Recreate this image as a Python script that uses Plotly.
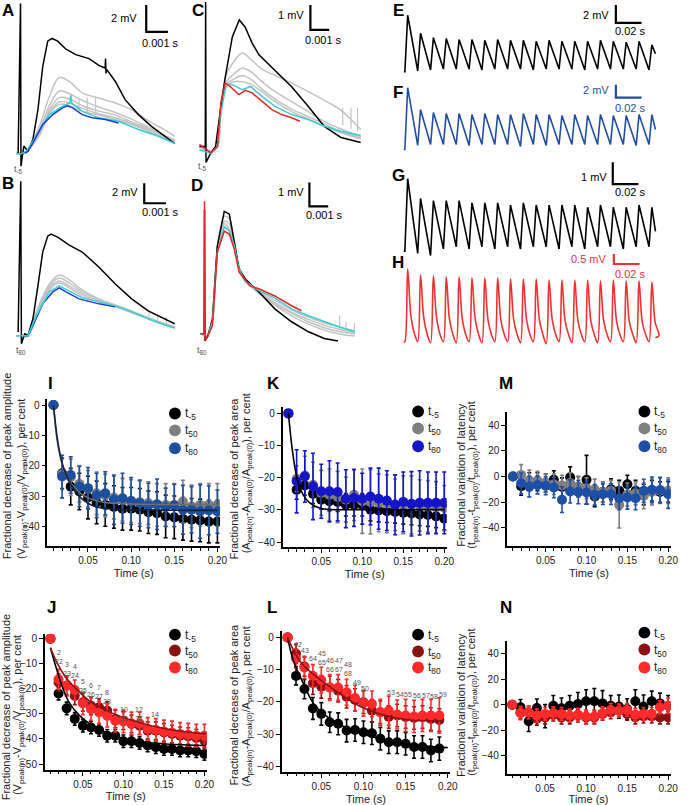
import plotly.graph_objects as go

W, H = 688, 805
FONT = "Liberation Sans, Arial, sans-serif"

# ===================== DATA: scatter panels (I, K, M, J, L, N) =====================
time_s = [0.01, 0.02, 0.03, 0.04, 0.05, 0.06, 0.07, 0.08, 0.09, 0.10,
          0.11, 0.12, 0.13, 0.14, 0.15, 0.16, 0.17, 0.18, 0.19, 0.20]
time_L = [0.01, 0.02, 0.03, 0.04, 0.05, 0.06, 0.07, 0.08, 0.09, 0.10,
          0.11, 0.12, 0.13, 0.14, 0.15, 0.16, 0.17, 0.18, 0.19]
x_ticks = [0.05, 0.10, 0.15, 0.20]
x_ticktext = ["0.05", "0.10", "0.15", "0.20"]
legend_labels = ["t<sub>-5</sub>", "t<sub>50</sub>", "t<sub>80</sub>"]

# I: fractional decrease of peak amplitude (cerebellar group)
I_t5 = [0, -22.4, -26.8, -28.4, -30.4, -32.0, -32.8, -33.5, -34.1, -34.1, -34.4, -35.2, -35.5, -36.6, -36.9, -37.4, -37.7, -37.9, -38.3, -38.3]
I_t5_err = [0, 5, 6, 6, 7, 7, 7, 7, 7, 7, 7, 7, 7, 7, 7, 7, 7, 7, 7, 7]
I_t50 = [0, -22.7, -23.7, -25.9, -27.5, -29.0, -29.7, -30.4, -31.1, -31.5, -31.9, -32.2, -32.8, -32.8, -32.8, -31.7, -33.3, -32.8, -32.8, -32.8]
I_t50_err = [0, 5, 6, 6, 6, 7, 7, 7, 7, 7, 7, 7, 7, 7, 7, 7, 7, 7, 7, 7]
I_t80 = [0, -23.5, -23.0, -26.8, -27.3, -29.7, -29.0, -31.1, -30.6, -31.5, -32.2, -33.0, -32.6, -33.6, -33.0, -34.4, -34.4, -35.0, -34.6, -35.0]
I_t80_err = [0, 7.0, 6.0, 6.6, 6.8, 7.3, 7.1, 8.1, 8.2, 7.7, 7.6, 7.3, 8.3, 6.3, 7.0, 8.0, 7.6, 8.8, 8.0, 7.1]
I_fit_t = [0.01, 0.015, 0.0207, 0.0264, 0.034, 0.0436, 0.055, 0.070, 0.101, 0.20]
I_fit_v = [0, -12.0, -19.7, -24.0, -27.8, -31.0, -33.0, -34.0, -34.4, -34.6]
I_fit2_v = [0, -13.0, -20.0, -24.0, -27.0, -29.5, -31.0, -32.0, -32.5, -32.7]

# K: fractional decrease of peak area
K_t5 = [0, -23.7, -22.4, -25.0, -26.8, -27.3, -27.5, -28.4, -28.4, -28.4, -29.9, -30.2, -30.4, -30.6, -30.9, -31.1, -31.4, -31.6, -32.0, -32.7]
K_t5_err = [0, 3, 3, 3, 3, 3, 3, 3.5, 3.5, 3.5, 3.5, 3.5, 3.5, 3.5, 3.5, 3.5, 3.5, 3.5, 3.5, 3.5]
K_t50 = [0, -20.3, -19.3, -22.2, -24.7, -25.3, -26.0, -26.8, -25.3, -27.3, -27.5, -27.8, -28.1, -28.4, -28.4, -28.4, -28.6, -28.9, -29.2, -29.4]
K_t50_err = [0, 4, 6, 7, 7, 8, 8, 7, 8, 10, 10, 9, 9, 8, 9, 9, 8, 8, 8, 7]
K_t80 = [0, -21.1, -19.6, -22.7, -24.2, -24.2, -24.4, -26.5, -26.3, -26.5, -25.8, -26.5, -27.1, -28.4, -27.5, -28.1, -27.8, -27.8, -27.8, -27.8]
K_t80_err = [0, 9.8, 8.0, 10.3, 8.4, 9.5, 9.0, 9.0, 8.8, 7.9, 8.8, 9.5, 9.3, 9.3, 9.3, 10, 10, 9.6, 9.6, 9.6]
K_fit_t = [0.01, 0.014, 0.018, 0.022, 0.028, 0.036, 0.048, 0.064, 0.096, 0.20]
K_fit_v = [0, -9.8, -17.0, -21.6, -25.3, -27.8, -29.4, -29.9, -29.9, -29.9]

# M: fractional variation of latency
M_t5 = [0, -7.5, -4, -4, -5, -2.5, -8, -0.5, -8, -2.5, -15.5, -12, -9.8, -11, -6, -11, -14, -11, -12, -12]
M_t5_err = [0, 7, 7, 7, 7, 7, 7, 8, 8, 19, 8, 8, 8, 8, 7, 8, 8, 8, 8, 8]
M_t50 = [0, 1.3, -3, -3, -5, -6, -7, -5, -8, -9, -10, -12, -11, -22, -14, -13, -15, -12, -11, -11]
M_t50_err = [0, 8, 8, 7, 7, 8, 8, 8, 8, 8, 8, 8, 8, 18, 9, 9, 10, 10, 10, 10]
M_t80 = [0, -5.2, -7.8, -6.5, -7.2, -8.5, -18, -11.6, -12.1, -12.4, -14.2, -13.7, -13.7, -16.8, -16.3, -16.8, -11.1, -10.3, -10.5, -13.7]
M_t80_err = [0, 8, 8, 7, 7, 8, 10, 9, 9, 9, 8, 8, 8, 9, 9, 9, 9, 10, 10, 11]

# J: fractional decrease of peak amplitude (second group)
J_t5 = [0, -21.9, -27.8, -32.0, -34.7, -35.4, -36.4, -38.7, -38.7, -40.9, -40.9, -41.6, -42.6, -43.3, -44.0, -44.0, -44.6, -44.6, -44.9, -46.0]
J_t5_err = [0, 2.5, 2.5, 2.5, 2.5, 2.5, 2.5, 2.5, 2.5, 2.5, 2.5, 2.5, 2.5, 2.5, 2.5, 2.5, 2.5, 2.5, 2.5, 2.5]
J_t50 = [0, -17.5, -18.8, -22.8, -25.4, -26.8, -27.4, -28.7, -32.0, -32.7, -34.0, -34.7, -36.7, -36.7, -37.4, -38.0, -38.7, -39.0, -39.6, -40.7]
J_t50_err = [0, 3.5, 3.5, 3.5, 3.5, 3.5, 3.5, 3.5, 3.5, 3.5, 3.5, 3.5, 3.5, 3.5, 3.5, 3.5, 3.5, 3.5, 3.5, 3.5]
J_t80 = [0, -16.2, -18.8, -20.5, -25.8, -28.1, -29.4, -30.7, -32.7, -33.0, -33.8, -33.8, -36.0, -36.4, -37.0, -37.4, -38.0, -38.3, -38.7, -38.7]
J_t80_err = [0, 4, 4, 4, 4.5, 4.5, 4.5, 4.5, 4.5, 4.5, 4.5, 4.5, 4.5, 4.5, 4.5, 4.5, 4.5, 4.5, 4.5, 4.5]
J_fit5_t = [0.01, 0.017, 0.025, 0.033, 0.046, 0.062, 0.083, 0.112, 0.153, 0.202]
J_fit5_v = [-3.6, -11.5, -19.5, -25.4, -30.7, -34.7, -38.0, -40.7, -42.0, -42.6]
J_fit80_t = [0.01, 0.019, 0.029, 0.042, 0.058, 0.079, 0.112, 0.153, 0.202]
J_fit80_v = [-3.6, -10.2, -15.5, -20.1, -24.8, -28.7, -32.7, -36.0, -38.0]
J_note_text = ["2<br>22", "3<br>23", "4<br>24", "5<br>25", "6<br>26", "7<br>27", "8<br>28", "10<br>30", "12<br>32", "14"]
J_note_t = [0.0209, 0.0307, 0.0398, 0.0502, 0.060, 0.0697, 0.0795, 0.1002, 0.1197, 0.139]
J_note_v = [-7.5, -12.3, -13.1, -19.0, -20.6, -21.4, -23.4, -30.2, -30.2, -30.2]

# L: fractional decrease of peak area (second group)
L_t5 = [0, -11.9, -16.0, -22.0, -23.7, -26.3, -26.8, -28.9, -28.7, -29.4, -29.7, -31.4, -32.5, -32.5, -33.0, -34.0, -34.0, -35.1, -34.5]
L_t5_err = [0, 2.8, 3, 3.4, 3.5, 3.2, 3.4, 3.5, 3.5, 3.5, 3.5, 3.5, 3.5, 3.5, 3.5, 3.5, 3.5, 3.5, 3.6]
L_t50 = [0, -5.0, -9.0, -14.2, -15.3, -15.5, -16.5, -18.4, -19.4, -20.1, -22.7, -23.2, -24.7, -24.2, -24.7, -25.0, -24.7, -25.3, -25.6]
L_t50_err = [0, 3, 3, 3.5, 3.5, 3.5, 3.5, 3.5, 3.5, 3.5, 3.5, 3.5, 3.5, 3.5, 3.5, 3.5, 3.5, 3.5, 3.5]
L_t80 = [0, -6.5, -9.3, -11.9, -13.2, -15.5, -15.5, -17.0, -18.8, -20.4, -20.6, -23.2, -22.7, -23.9, -24.2, -24.5, -24.2, -24.2, -24.2]
L_t80_err = [0, 3, 3.5, 3.5, 4, 4, 4, 4, 4, 4, 4, 4, 4.5, 4.5, 5, 5, 5, 5, 5.5]
L_fit5_t = [0.01, 0.0169, 0.029, 0.041, 0.0576, 0.0778, 0.098, 0.119, 0.139, 0.163, 0.20]
L_fit5_v = [0, -7.2, -14.4, -20.6, -24.7, -27.8, -29.9, -31.4, -32.5, -33.5, -34.2]
L_fit80_t = [0.01, 0.0243, 0.040, 0.0555, 0.075, 0.094, 0.113, 0.133, 0.156, 0.193]
L_fit80_v = [0, -7.2, -11.3, -14.4, -18.0, -21.1, -23.2, -24.7, -25.6, -26.0]
L_note_text = ["42", "43", "64", "45<br>65", "46<br>66", "47<br>67", "48<br>68", "49", "50",
               "53", "54", "55", "56", "57", "58", "59"]
L_note_t = [0.0218, 0.0311, 0.0405, 0.051, 0.0604, 0.071, 0.0815, 0.092, 0.1015,
            0.133, 0.1437, 0.153, 0.1636, 0.174, 0.1835, 0.194]
L_note_v = [-2.2, -4.0, -6.5, -6.2, -8.4, -8.4, -9.9, -13.9, -15.8,
            -17.0, -17.6, -17.6, -18.0, -18.0, -18.3, -17.6]

# N: fractional variation of latency (second group)
N_t5 = [0, -2, -13, -2.6, -9, -0.8, -2.8, -0.8, 0.5, 2.6, 2.6, 1, -0.8, -1.5, -3.4, 2.6, -1.5, 2.6, 1.0, -0.8]
N_t5_err = [0, 6, 8, 7, 9, 8, 8, 8, 9, 9, 10, 10, 8, 9, 8, 9, 9, 8, 8, 8]
N_t50 = [0, -6, -6, -11, -10, -7.8, -10, -10, -8.5, -10, -10, -7.2, -6, -4.7, -7.2, -10, -9.3, -9.3, -10, -10]
N_t50_err = [0, 5, 5, 5, 5, 5, 5, 5, 5, 5, 5, 5, 5, 5, 5, 5, 5, 5, 5, 5]
N_t80 = [0, -6.7, -6, -8.5, -7.2, -6.7, -7.2, -8.5, -7.8, -9.3, -9.3, -6.7, -4.1, -4.7, -4.1, -7.8, -7.2, -7.2, -2, -0.8]
N_t80_err = [0, 5, 5, 5, 5, 5, 5, 5, 5, 5, 5, 5, 5, 5, 5, 5, 5, 5, 5, 6]

# ===================== DATA: single-response traces (A-D), ms / mV =====================
A_black_t = [-0.12, -0.01, 0.01, 0.14, 0.33, 0.56, 0.79, 1.01, 1.24, 1.44, 1.70, 2.08, 2.53, 3.14, 3.59,
             3.88, 3.90, 3.92, 3.95, 4.35, 4.80, 5.41, 6.01, 6.62, 7.08]
A_black_v = [-0.15, 11.0, -1.1, 0.4, 0.0, 0.9, 3.1, 6.3, 8.2, 8.4, 8.2, 7.6, 7.2, 6.9, 6.4,
             6.2, 6.9, 5.8, 6.1, 5.2, 3.85, 2.74, 1.87, 1.13, 0.59]
A_blue_t = [0.18, 0.33, 0.56, 1.01, 1.47, 1.92, 2.15, 2.38, 2.83, 3.29, 3.89, 4.50]
A_blue_v = [-0.15, 0.0, 0.64, 2.0, 2.74, 3.24, 3.4, 3.24, 2.74, 2.5, 2.37, 2.12]
A_cyan_t = [-0.2, -0.05, 0.26, 0.71, 1.32, 1.92, 2.26, 2.30, 2.35, 2.83, 3.59, 4.50, 5.41, 6.32, 7.08]
A_cyan_v = [-0.15, -0.2, 0.0, 1.13, 2.74, 3.36, 3.6, 4.2, 3.6, 2.98, 2.5, 2.24, 1.63, 1.13, 0.59]
A_gray_t = [-0.2, 0.26, 0.86, 1.32, 1.77, 2.23, 2.83, 3.59, 4.35, 5.10, 5.86, 6.62, 7.08]
A_gray = [
    [-0.15, 0, 1.87, 4.1, 5.5, 5.2, 4.35, 3.97, 3.6, 3.1, 2.3, 1.6, 1.13],
    [-0.15, 0, 1.6, 3.4, 4.5, 4.3, 3.8, 3.3, 2.9, 2.4, 1.8, 1.2, 0.85],
    [-0.15, 0, 1.4, 3.1, 4.0, 3.9, 3.4, 3.0, 2.7, 2.2, 1.7, 1.1, 0.75],
    [-0.15, 0, 1.3, 2.9, 3.7, 3.6, 3.2, 2.8, 2.5, 2.1, 1.6, 1.05, 0.7],
    [-0.15, 0, 1.2, 2.8, 3.5, 3.4, 3.0, 2.7, 2.4, 2.0, 1.5, 1.0, 0.65],
]
A_spike_t = [2.68, 3.06, 3.44]
A_spike_lo = [2.9, 2.8, 2.7]
A_spike_hi = [3.9, 4.0, 4.1]

B_black_t = [-0.12, 0.0, 0.03, 0.18, 0.33, 0.56, 0.79, 1.01, 1.24, 1.39, 1.70, 2.23, 2.83, 3.59, 4.35, 5.10, 5.86, 6.62, 7.08]
B_black_v = [0.37, 15.5, -0.8, 0.2, 0.03, 1.7, 5.0, 8.4, 10.0, 10.2, 9.9, 9.1, 8.4, 6.9, 5.2, 3.7, 2.5, 1.7, 1.2]
B_blue_t = [0.1, 0.33, 0.56, 1.01, 1.47, 1.77, 2.08, 2.68, 3.59, 4.35]
B_blue_v = [0.0, 0.0, 1.0, 3.2, 4.4, 4.8, 4.4, 3.7, 3.2, 2.9]
B_cyan_t = [-0.2, 0.33, 0.71, 1.32, 1.77, 2.23, 2.83, 3.59, 4.35, 5.10, 5.86, 6.62, 7.08]
B_cyan_v = [0.0, 0.0, 2.0, 4.4, 5.0, 4.5, 3.8, 3.4, 3.0, 2.4, 1.7, 1.1, 0.77]
B_gray_t = [-0.2, 0.33, 0.71, 1.32, 1.77, 2.23, 2.83, 3.59, 4.35, 5.10, 5.86, 6.62, 7.08]
B_gray = [
    [0, 0, 2.4, 5.2, 6.1, 5.6, 4.6, 3.7, 3.1, 2.5, 1.8, 1.2, 0.9],
    [0, 0, 2.2, 5.0, 5.8, 5.3, 4.4, 3.6, 3.0, 2.4, 1.8, 1.2, 0.9],
    [0, 0, 2.1, 4.8, 5.5, 5.0, 4.2, 3.5, 3.0, 2.4, 1.7, 1.1, 0.8],
    [0, 0, 2.0, 4.6, 5.3, 4.8, 4.0, 3.4, 2.9, 2.3, 1.7, 1.1, 0.8],
]
B_spike_t = [5.9, 6.3, 6.7]
B_spike_lo = [1.6, 1.3, 1.0]
B_spike_hi = [2.6, 2.2, 1.9]

C_black_t = [-0.33, -0.02, 0.0, 0.02, 0.26, 0.53, 0.79, 1.05, 1.42, 1.79, 2.10, 2.47, 2.84, 3.68, 4.58, 5.47, 6.32, 7.21, 8.26]
C_black_v = [0.0, 0.0, 5.8, -0.64, -0.28, 0.0, 1.48, 2.8, 4.4, 5.08, 4.8, 4.16, 3.68, 3.08, 2.4, 1.6, 0.8, 0.36, 0.16]
C_red_t = [-0.33, 0.28, 0.63, 0.81, 1.04, 1.33, 1.77, 2.12, 2.47, 3.0, 3.53, 4.05, 4.58, 5.02]
C_red_v = [0.08, -0.25, 0.0, 1.75, 2.55, 2.39, 2.08, 2.25, 2.15, 1.81, 1.48, 1.28, 1.15, 1.01]
C_cyan_t = [-0.33, 0.28, 0.63, 0.81, 1.10, 1.42, 1.95, 2.39, 3.0, 3.7, 4.58, 5.46, 6.33, 7.21, 8.26]
C_cyan_v = [-0.13, -0.28, 0.0, 1.35, 2.5, 2.48, 2.28, 2.41, 2.01, 1.61, 1.28, 1.08, 0.81, 0.61, 0.44]
C_gray_t = [-0.33, 0.28, 0.63, 0.81, 1.10, 1.50, 1.95, 2.40, 3.0, 3.7, 4.58, 5.46, 6.33, 7.21, 8.26]
C_gray = [
    [0.0, -0.2, 0.0, 1.6, 2.9, 3.4, 3.75, 3.5, 3.1, 2.85, 2.55, 2.2, 1.85, 1.45, 0.68],
    [0.0, -0.2, 0.0, 1.5, 2.6, 2.9, 3.15, 3.0, 2.6, 2.2, 1.8, 1.4, 1.0, 0.7, 0.4],
    [0.0, -0.25, 0.0, 1.4, 2.5, 2.7, 2.85, 2.7, 2.3, 1.9, 1.5, 1.2, 0.9, 0.6, 0.35],
    [0.0, -0.25, 0.0, 1.3, 2.4, 2.6, 2.6, 2.5, 2.2, 1.8, 1.4, 1.1, 0.8, 0.55, 0.3],
]
C_spike_t = [7.3, 7.74, 8.09]
C_spike_lo = [0.85, 0.7, 0.6]
C_spike_hi = [1.55, 1.55, 1.55]

D_black_t = [-0.21, -0.02, 0.0, 0.02, 0.16, 0.42, 0.68, 1.05, 1.32, 1.58, 1.84, 2.16, 2.89, 3.74, 4.63, 5.53, 6.37, 7.10]
D_black_v = [0.0, 0.0, 5.2, -0.3, -0.12, 0.62, 3.67, 5.12, 5.0, 3.83, 2.7, 2.3, 1.75, 1.04, 0.5, 0.08, -0.2, -0.3]
D_red_t = [-0.21, -0.02, 0.0, 0.02, 0.16, 0.42, 0.68, 1.05, 1.32, 1.58, 1.84, 2.42, 2.89, 3.74, 4.63, 5.16]
D_red_v = [0.0, 0.0, 5.54, -0.3, -0.08, 0.33, 3.42, 4.29, 4.17, 3.54, 2.58, 2.0, 1.88, 1.58, 1.17, 0.96]
D_cyan_t = [-0.21, 0.16, 0.42, 0.68, 1.05, 1.32, 1.58, 1.84, 2.16, 2.89, 3.74, 4.63, 5.53, 6.37, 7.10, 8.0]
D_cyan_v = [0.0, -0.1, 0.5, 3.4, 4.46, 4.3, 3.7, 2.7, 2.2, 1.8, 1.5, 1.04, 0.75, 0.5, 0.3, 0.08]
D_gray_t = [-0.21, 0.16, 0.42, 0.68, 1.05, 1.32, 1.58, 1.84, 2.16, 2.89, 3.74, 4.63, 5.53, 6.37, 7.10, 8.0]
D_gray = [
    [0, -0.1, 0.6, 3.6, 4.9, 4.8, 3.9, 2.8, 2.3, 1.75, 1.2, 0.75, 0.4, 0.15, 0.0, -0.1],
    [0, -0.1, 0.6, 3.5, 4.7, 4.6, 3.8, 2.7, 2.2, 1.7, 1.25, 0.85, 0.5, 0.25, 0.1, 0.0],
    [0, -0.1, 0.5, 3.4, 4.6, 4.4, 3.7, 2.7, 2.2, 1.75, 1.3, 0.9, 0.6, 0.35, 0.2, 0.05],
    [0, -0.1, 0.5, 3.3, 4.5, 4.3, 3.7, 2.7, 2.2, 1.8, 1.4, 1.0, 0.7, 0.45, 0.3, 0.1],
]
D_spike_t = [7.19, 7.53, 7.97]
D_spike_lo = [0.2, 0.15, 0.1]
D_spike_hi = [0.76, 0.5, 0.45]

# ===================== DATA: 100 Hz trains (E-H), s / mV =====================
stim_s = [0.002, 0.012, 0.022, 0.032, 0.042, 0.052, 0.062, 0.072, 0.082, 0.092,
          0.102, 0.112, 0.122, 0.132, 0.142, 0.152, 0.162, 0.172, 0.182, 0.192]
E_peaks = [6.3, 4.3, 3.8, 3.7, 3.6, 3.6, 3.5, 3.6, 3.5, 3.5, 3.4, 3.5, 3.4, 3.4, 3.4, 3.5, 3.4, 3.3, 3.4, 3.0]
E_troughs = [0.1, 0.2, 0.3, 0.3, 0.3, 0.2, 0.3, 0.3, 0.3, 0.2, 0.3, 0.3, 0.3, 0.2, 0.3, 0.3, 0.3, 0.3, 0.2, 2.0]
F_peaks = [6.2, 4.0, 3.7, 3.6, 3.6, 3.5, 3.6, 3.5, 3.5, 3.6, 3.5, 3.5, 3.4, 3.5, 3.4, 3.5, 3.4, 3.4, 3.5, 3.5]
F_troughs = [0.4, 0.5, 0.5, 0.5, 0.4, 0.5, 0.5, 0.5, 0.3, 0.5, 0.4, 0.5, 0.5, 0.5, 0.5, 0.5, 0.5, 0.4, 0.5, 2.0]
G_peaks = [3.3, 2.4, 2.3, 2.3, 2.3, 2.2, 2.2, 2.2, 2.1, 2.2, 2.1, 2.1, 2.1, 2.1, 2.0, 2.1, 2.0, 2.0, 2.1, 2.0]
G_troughs = [-0.1, -0.2, 0.1, 0.2, 0.1, 0.2, 0.1, 0.2, 0.1, 0.2, 0.2, 0.1, 0.2, 0.1, 0.2, 0.2, 0.1, 0.2, 0.2, 0.9]
H_peaks = [3.65, 3.35, 3.3, 3.25, 3.25, 3.2, 3.2, 3.2, 3.15, 3.15, 3.15, 3.1, 3.1, 3.1, 3.1, 3.05, 3.1, 3.05, 3.05, 3.0]
H_shoulder = [1.3, 1.2, 1.2, 1.15, 1.15, 1.15, 1.1, 1.1, 1.1, 1.1, 1.1, 1.1, 1.05, 1.05, 1.05, 1.05, 1.05, 1.0, 1.0, 1.0]
H_tail = [0.35, 0.3, 0.3, 0.3, 0.3, 0.3, 0.3, 0.3, 0.3, 0.3, 0.3, 0.3, 0.3, 0.3, 0.3, 0.3, 0.3, 0.3, 0.3, 0.3]
H_troughs = [0.0, -0.05, 0.0, -0.05, 0.0, -0.05, 0.0, 0.0, -0.05, 0.0, -0.1, 0.0, -0.05, 0.0, -0.05, 0.0, 0.0, -0.05, 0.0, 0.2]

# ===================== helpers =====================
def clamp(v):
    return max(0.0, min(1.0, v))

def dx(p0, p1):
    return [clamp(p0 / W), clamp(p1 / W)]

def dy(top, bottom):
    return [clamp(1 - bottom / H), clamp(1 - top / H)]

def pxx(p):
    return p / W

def pxy(p):
    return 1 - p / H

fig = go.Figure()
layout = dict(width=W, height=H, margin=dict(l=0, r=0, t=0, b=0),
              paper_bgcolor="white", plot_bgcolor="white",
              font=dict(family=FONT, size=10, color="#222"), showlegend=False)
annotations = []
shapes = []

# --- trace panel axes ---
TR_X = [-0.0054, 0.2161]
trace_panels = {
    1: dict(dom=(dx(10, 185), dy(0, 172)), xr=[-0.5, 7.455], yr=[-1.48, 11.26]),      # A
    2: dict(dom=(dx(10, 185), dy(180, 352)), xr=[-0.5, 7.455], yr=[-1.5, 15.7]),      # B
    3: dict(dom=(dx(198, 372), dy(0, 172)), xr=[-0.53, 8.63], yr=[-1.0, 5.88]),       # C
    4: dict(dom=(dx(198, 372), dy(180, 352)), xr=[-0.47, 8.68], yr=[-0.71, 6.46]),    # D
    5: dict(dom=(dx(400, 688), dy(0, 85)), xr=TR_X, yr=[-1.44, 8.0]),                 # E
    6: dict(dom=(dx(400, 688), dy(85, 170)), xr=TR_X, yr=[-2.0, 6.5]),                # F
    7: dict(dom=(dx(400, 688), dy(160, 262)), xr=TR_X, yr=[-0.45, 4.18]),             # G
    8: dict(dom=(dx(400, 688), dy(250, 350)), xr=TR_X, yr=[-0.35, 4.65]),             # H
}
for k, p in trace_panels.items():
    s = "" if k == 1 else str(k)
    layout["xaxis" + s] = dict(domain=p["dom"][0], range=p["xr"], visible=False, anchor="y" + s, fixedrange=True)
    layout["yaxis" + s] = dict(domain=p["dom"][1], range=p["yr"], visible=False, anchor="x" + s, fixedrange=True)

# --- scatter panel axes ---
XR = [0.003, 0.203]
scatter_panels = {
    9: dict(dom=(dx(48, 222.6), dy(400.5, 548.3)), yr=[-46.4, 2], yt=[0, -10, -20, -30, -40]),      # I
    10: dict(dom=(dx(286, 452), dy(408.5, 549.3)), yr=[-41.6, 2], yt=[0, -10, -20, -30, -40]),     # K
    11: dict(dom=(dx(513.2, 678.6), dy(413.3, 548.3)), yr=[-54.2, 50.4], yt=[40, 20, 0, -20, -40]), # M
    12: dict(dom=(dx(45.3, 209.3), dy(636, 772.7)), yr=[-52.3, 2], yt=[0, -10, -20, -30, -40, -50]), # J
    13: dict(dom=(dx(285, 455.6), dy(633.5, 775)), yr=[-41.8, 2], yt=[0, -10, -20, -30, -40]),     # L
    14: dict(dom=(dx(512.5, 678.5), dy(643.3, 776.7)), yr=[-54, 49.8], yt=[40, 20, 0, -20, -40]),  # N
}
for k, p in scatter_panels.items():
    s = str(k)
    layout["xaxis" + s] = dict(domain=p["dom"][0], range=XR, anchor="y" + s, showline=True,
                               linecolor="black", linewidth=1.6, ticks="outside", ticklen=4,
                               tickwidth=1.2, tickcolor="black", showgrid=False, zeroline=False,
                               tickvals=x_ticks, ticktext=x_ticktext, tickfont=dict(size=10),
                               minor=dict(tickvals=time_s, ticks="outside", ticklen=2.5,
                                          tickwidth=1, tickcolor="black", showgrid=False),
                               title=dict(text="Time (s)", font=dict(size=11), standoff=4),
                               fixedrange=True)
    layout["yaxis" + s] = dict(domain=p["dom"][1], range=p["yr"], anchor="x" + s, showline=True,
                               linecolor="black", linewidth=1.6, ticks="outside", ticklen=4,
                               tickwidth=1.2, tickcolor="black", showgrid=False, zeroline=False,
                               tickvals=p["yt"], tickfont=dict(size=10), fixedrange=True)

def ax(k):
    s = "" if k == 1 else str(k)
    return dict(xaxis="x" + s, yaxis="y" + s)

def line(k, t, v, color, width=1.5, shape="linear"):
    fig.add_trace(go.Scatter(x=t, y=v, mode="lines", line=dict(color=color, width=width, shape=shape),
                             hoverinfo="skip", **ax(k)))

def spikes(k, ts, lo, hi, color):
    xs, ys = [], []
    for t, a, b in zip(ts, lo, hi):
        xs += [t, t, t, None]
        ys += [a, b, a, None]
    line(k, xs, ys, color, 1.2)

def scalebar(k, x0, y0, lx, ly, color, vtxt, htxt, vtx, vty, htx, hty):
    line(k, [x0, x0, x0 + lx], [y0 + ly, y0, y0], color, 2.2)
    s = "" if k == 1 else str(k)
    annotations.append(dict(x=vtx, y=vty, xref="x" + s, yref="y" + s, text=vtxt, showarrow=False,
                            xanchor="right", yanchor="middle", font=dict(size=11, color=color)))
    annotations.append(dict(x=htx, y=hty, xref="x" + s, yref="y" + s, text=htxt, showarrow=False,
                            xanchor="center", yanchor="middle", font=dict(size=11, color=color)))

GRAY_TR = "#c3c3c3"
BLUE_TR = "#1f3fd0"
CYAN_TR = "#38d0d6"
RED_TR = "#ec2424"

# ---- A ----
for g in A_gray:
    line(1, A_gray_t, g, GRAY_TR, shape="spline")
spikes(1, A_spike_t, A_spike_lo, A_spike_hi, GRAY_TR)
line(1, A_black_t, A_black_v, "black")
line(1, A_cyan_t, A_cyan_v, CYAN_TR)
line(1, A_blue_t, A_blue_v, BLUE_TR)
scalebar(1, 5.77, 8.89, 1.0, 2.0, "black", "2 mV", "0.001 s", 5.45, 9.9, 6.41, 8.07)
# ---- B ----
for g in B_gray:
    line(2, B_gray_t, g, GRAY_TR, shape="spline")
spikes(2, B_spike_t, B_spike_lo, B_spike_hi, GRAY_TR)
line(2, B_black_t, B_black_v, "black")
line(2, B_blue_t, B_blue_v, BLUE_TR)
line(2, B_cyan_t, B_cyan_v, CYAN_TR)
scalebar(2, 5.68, 13.3, 1.0, 2.0, "black", "2 mV", "0.001 s", 5.5, 14.4, 6.45, 12.4)
# ---- C ----
for g in C_gray:
    line(3, C_gray_t, g, GRAY_TR, shape="spline")
spikes(3, C_spike_t, C_spike_lo, C_spike_hi, GRAY_TR)
line(3, C_black_t, C_black_v, "black")
line(3, C_cyan_t, C_cyan_v, CYAN_TR)
line(3, C_red_t, C_red_v, RED_TR)
scalebar(3, 5.58, 4.68, 1.0, 1.0, "black", "1 mV", "0.001 s", 5.37, 5.28, 6.26, 4.28)
# ---- D ----
for g in D_gray:
    line(4, D_gray_t, g, GRAY_TR, shape="spline")
spikes(4, D_spike_t, D_spike_lo, D_spike_hi, GRAY_TR)
line(4, D_black_t, D_black_v, "black")
line(4, D_cyan_t, D_cyan_v, CYAN_TR)
line(4, D_red_t, D_red_v, RED_TR)
scalebar(4, 5.58, 5.33, 1.0, 1.0, "black", "1 mV", "0.001 s", 5.42, 5.92, 6.37, 4.96)

# ---- E-H trains ----
RISE = 0.0022

def train(peaks, troughs, shoulder=None, tail=None):
    xs = [stim_s[0] - 0.0008, stim_s[0]]
    ys = [0.0, 0.0]
    n = len(peaks)
    for i in range(n):
        xs.append(stim_s[i] + RISE); ys.append(peaks[i])
        if shoulder is not None:
            xs.append(stim_s[i] + RISE + 0.0025); ys.append(shoulder[i])
        if tail is not None:
            xs.append(stim_s[i] + RISE + 0.0055); ys.append(tail[i])
        end = stim_s[i + 1] if i + 1 < n else stim_s[i] + 0.005
        xs.append(end); ys.append(troughs[i])
    return xs, ys

ex, ey = train(E_peaks, E_troughs)
line(5, ex, ey, "black", 1.6)
scalebar(5, 0.1662, 5.44, 0.02, 2.0, "black", "2 mV", "0.02 s", 0.1625, 6.3, 0.177, 4.55)
fx, fy = train(F_peaks, F_troughs)
line(6, fx, fy, "#1f4ea0", 1.6)
scalebar(6, 0.1662, 5.2, 0.02, 2.0, "#1f4ea0", "2 mV", "0.02 s", 0.1625, 6.0, 0.177, 4.2)
gx, gy = train(G_peaks, G_troughs)
line(7, gx, gy, "black", 1.6)
scalebar(7, 0.1638, 3.05, 0.02, 1.0, "black", "1 mV", "0.02 s", 0.1605, 3.4, 0.177, 2.68)
hx, hy = train(H_peaks, H_troughs, H_shoulder, H_tail)
line(8, hx, hy, "#f03030", 1.6, shape="spline")
scalebar(8, 0.1646, 3.9, 0.02, 0.5, "#f03030", "0.5 mV", "0.02 s", 0.161, 4.15, 0.177, 3.4)

# ---- scatter series ----
def series(k, t, v, err, color):
    fig.add_trace(go.Scatter(x=t, y=v, mode="markers",
                             marker=dict(size=10, color=color, line=dict(width=0)),
                             error_y=dict(type="data", array=err, color=color, thickness=1.6, width=2),
                             hoverinfo="skip", **ax(k)))

BLACK, GRAY_S, BLUE_I, BLUE_K, BLUE_M = "#000000", "#7f7f7f", "#1d4f9e", "#1414c8", "#1e4fa6"
DRED, RED = "#8a1212", "#ff2a2a"

series(9, time_s, I_t5, I_t5_err, BLACK)
series(9, time_s, I_t50, I_t50_err, GRAY_S)
series(9, time_s, I_t80, I_t80_err, BLUE_I)
line(9, I_fit_t, I_fit2_v, "#6f6f6f", 1.6, "spline")
line(9, I_fit_t, I_fit_v, "#15213f", 1.6, "spline")

series(10, time_s, K_t5, K_t5_err, BLACK)
series(10, time_s, K_t50, K_t50_err, GRAY_S)
series(10, time_s, K_t80, K_t80_err, BLUE_K)
line(10, K_fit_t, K_fit_v, "black", 1.6, "spline")

series(11, time_s, M_t5, M_t5_err, BLACK)
series(11, time_s, M_t50, M_t50_err, GRAY_S)
series(11, time_s, M_t80, M_t80_err, BLUE_M)

series(12, time_s, J_t5, J_t5_err, BLACK)
series(12, time_s, J_t50, J_t50_err, DRED)
series(12, time_s, J_t80, J_t80_err, RED)
line(12, J_fit5_t, J_fit5_v, "black", 1.6, "spline")
line(12, J_fit80_t, J_fit80_v, DRED, 1.6, "spline")

series(13, time_L, L_t5, L_t5_err, BLACK)
series(13, time_L, L_t50, L_t50_err, DRED)
series(13, time_L, L_t80, L_t80_err, RED)
line(13, L_fit5_t, L_fit5_v, "black", 1.6, "spline")
line(13, L_fit80_t, L_fit80_v, DRED, 1.6, "spline")

series(14, time_s, N_t5, N_t5_err, BLACK)
series(14, time_s, N_t50, N_t50_err, DRED)
series(14, time_s, N_t80, N_t80_err, RED)

# number annotations in J and L
for txt, t, v in zip(J_note_text, J_note_t, J_note_v):
    annotations.append(dict(x=t, y=v, xref="x12", yref="y12", text=txt, showarrow=False,
                            font=dict(size=7, color="#555555"), xanchor="center", yanchor="middle"))
for txt, t, v in zip(L_note_text, L_note_t, L_note_v):
    annotations.append(dict(x=t, y=v, xref="x13", yref="y13", text=txt, showarrow=False,
                            font=dict(size=7, color="#555555"), xanchor="center", yanchor="middle"))

# legends (marker discs + labels)
legend_specs = [
    (177, [415, 432, 450], [BLACK, GRAY_S, BLUE_I]),
    (423, [413, 430, 448], [BLACK, GRAY_S, BLUE_K]),
    (652, [413, 430, 448], [BLACK, GRAY_S, BLUE_M]),
    (177, [637, 653, 670], [BLACK, DRED, RED]),
    (423, [637, 654, 670], [BLACK, DRED, RED]),
    (652, [635, 652, 670], [BLACK, DRED, RED]),
]
for cx, cys, cols in legend_specs:
    for cy, col, lab in zip(cys, cols, legend_labels):
        r = 6
        shapes.append(dict(type="circle", xref="paper", yref="paper",
                           x0=pxx(cx - r), x1=pxx(cx + r), y0=pxy(cy + r), y1=pxy(cy - r),
                           fillcolor=col, line=dict(width=0)))
        annotations.append(dict(x=pxx(cx + 8), y=pxy(cy + 1), xref="paper", yref="paper", text=lab,
                                showarrow=False, xanchor="left", yanchor="middle",
                                font=dict(size=12, color="#222")))

# y-axis titles (two lines each)
ytitles = [
    ("Fractional decrease of peak amplitude",
     "(V<sub>peak(n)</sub>-V<sub>peak(0)</sub>/V<sub>peak(0)</sub>), per cent", 7, 22, 467, 481),
    ("Fractional decrease of peak area",
     "(A<sub>peak(n)</sub>-A<sub>peak(0)</sub>/A<sub>peak(0)</sub>), per cent", 237, 250, 480, 475),
    ("Fractional variation of latency",
     "(t<sub>peak(n)</sub>-t<sub>peak(0)</sub>/t<sub>peak(0)</sub>), per cent", 467, 478, 477, 477),
    ("Fractional decrease of peak amplitude",
     "(V<sub>peak(n)</sub>-V<sub>peak(0)</sub>/V<sub>peak(0)</sub>), per cent", 6, 19, 709, 718),
    ("Fractional decrease of peak area",
     "(A<sub>peak(n)</sub>-A<sub>peak(0)</sub>/A<sub>peak(0)</sub>), per cent", 237, 250, 707, 709),
    ("Fractional variation of latency",
     "(t<sub>peak(n)</sub>-t<sub>peak(0)</sub>/t<sub>peak(0)</sub>), per cent", 467, 478, 708, 705),
]
for l1, l2, x1, x2, y1, y2 in ytitles:
    annotations.append(dict(x=pxx(x1), y=pxy(y1), xref="paper", yref="paper", text=l1, textangle=-90,
                            showarrow=False, xanchor="center", yanchor="middle",
                            font=dict(size=11, color="#222")))
    annotations.append(dict(x=pxx(x2), y=pxy(y2), xref="paper", yref="paper", text=l2, textangle=-90,
                            showarrow=False, xanchor="center", yanchor="middle",
                            font=dict(size=11, color="#222")))

# panel letters
letters = [("A", 8, 11), ("B", 8, 184), ("C", 200, 11), ("D", 199, 186), ("E", 403, 11),
           ("F", 403, 93), ("G", 403, 176), ("H", 403, 263), ("I", 51, 385), ("K", 277, 385),
           ("M", 512, 385), ("J", 52, 610), ("L", 275, 610), ("N", 512, 610)]
for t, x, y in letters:
    annotations.append(dict(x=pxx(x), y=pxy(y), xref="paper", yref="paper", text="<b>%s</b>" % t,
                            showarrow=False, xanchor="center", yanchor="middle",
                            font=dict(size=17, color="black")))

# time markers under traces
tlabels = [("t<sub>-5</sub>", 19, 170), ("t<sub>-5</sub>", 205, 167),
           ("t<sub>80</sub>", 21, 352), ("t<sub>80</sub>", 204, 352)]
for t, x, y in tlabels:
    annotations.append(dict(x=pxx(x), y=pxy(y), xref="paper", yref="paper", text=t,
                            showarrow=False, xanchor="center", yanchor="middle",
                            font=dict(size=9, color="#555555")))

layout["annotations"] = annotations
layout["shapes"] = shapes
fig.update_layout(**layout)

fig.write_html("out.html", config={"displayModeBar": False},
               post_script="document.body.style.margin='0';document.body.style.overflow='hidden';")
